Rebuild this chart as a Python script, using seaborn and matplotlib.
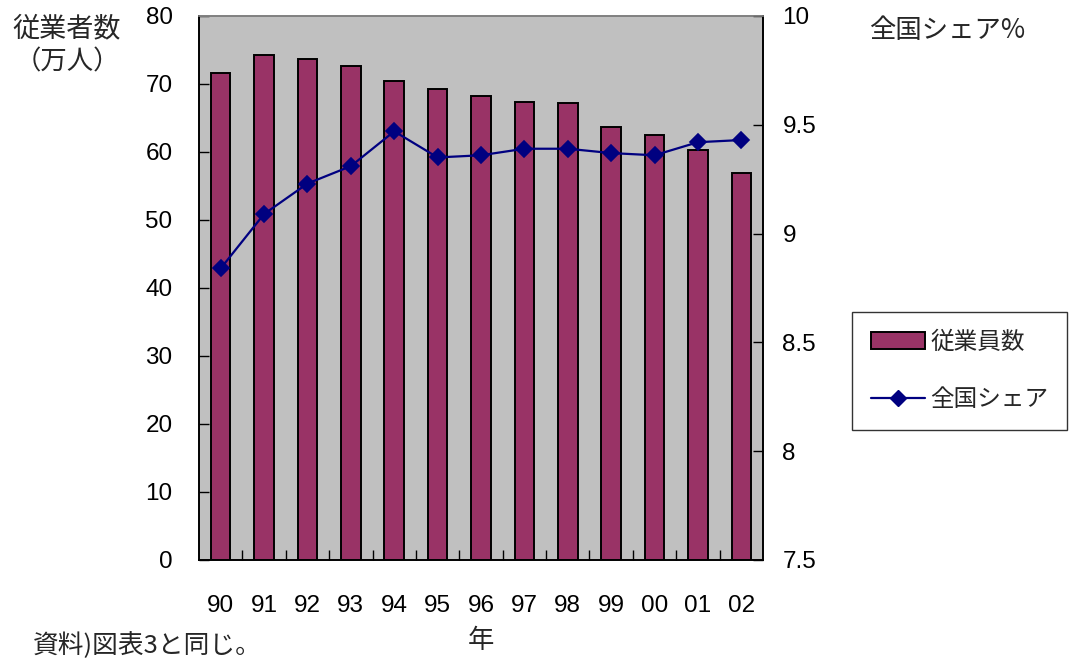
import matplotlib
matplotlib.use("Agg")
import matplotlib.pyplot as plt
from matplotlib.patches import Patch
from matplotlib.lines import Line2D
from matplotlib.ticker import FixedLocator, NullFormatter
import seaborn as sns
import pandas as pd

years = ["90", "91", "92", "93", "94", "95", "96", "97", "98", "99", "00", "01", "02"]
employees = [71.6, 74.3, 73.7, 72.6, 70.4, 69.3, 68.2, 67.4, 67.2, 63.7, 62.5, 60.3, 56.9]
national_share = [8.84, 9.09, 9.23, 9.31, 9.47, 9.35, 9.36, 9.39, 9.39, 9.37, 9.36, 9.42, 9.43]

bar_color = "#993366"
line_color = "#000080"

sns.set_theme(style="white")
plt.rcParams["font.family"] = ["Liberation Sans", "Noto Sans CJK JP", "DejaVu Sans"]
jp = ["Noto Sans CJK JP", "DejaVu Sans"]

df = pd.DataFrame({"year": years, "employees": employees, "share": national_share})

fig = plt.figure(figsize=(10.72, 6.62), dpi=100)
ax = fig.add_axes([199 / 1072, 1 - 560 / 662, (763 - 199) / 1072, (560 - 16) / 662])
ax.set_facecolor("#C0C0C0")

sns.barplot(data=df, x="year", y="employees", color=bar_color, saturation=1,
            width=0.45, edgecolor="black", linewidth=1.4, ax=ax)

ax2 = ax.twinx()
sns.pointplot(data=df, x="year", y="share", color=line_color, markers="D",
              linestyles="-", markersize=8.5, linewidth=1.6, ax=ax2)

for a in (ax, ax2):
    a.set_xlim(-0.5, len(years) - 0.5)
    a.set_xlabel("")
    a.set_ylabel("")

ax.set_ylim(0, 80)
ax.set_yticks(range(0, 81, 10))
ax2.set_ylim(7.5, 10)
ax2.set_yticks([7.5, 8, 8.5, 9, 9.5, 10])
ax2.set_yticklabels(["7.5", "8", "8.5", "9", "9.5", "10"])

ax.tick_params(axis="y", direction="in", length=7, width=1, pad=19, labelsize=17.5, colors="black", left=True)
ax2.tick_params(axis="y", direction="in", length=7, width=1, pad=14, labelsize=17.5, colors="black", right=True)
ax.tick_params(axis="x", which="major", length=0, pad=25, labelsize=17.5, colors="black")
ax.xaxis.set_minor_locator(FixedLocator([i + 0.5 for i in range(len(years) - 1)]))
ax.xaxis.set_minor_formatter(NullFormatter())
ax.tick_params(axis="x", which="minor", direction="in", length=7, width=1, bottom=True, color="black")
ax2.tick_params(axis="x", length=0)

for a in (ax, ax2):
    for side in ("left", "bottom", "right"):
        a.spines[side].set_color("black")
        a.spines[side].set_linewidth(1.2)
    a.spines["top"].set_color("#808080")
    a.spines["top"].set_linewidth(1.2)

fig.text(67 / 1072, 1 - 29 / 662, "従業者数", ha="center", va="center", fontsize=19.5, family=jp)
fig.text(67 / 1072, 1 - 62 / 662, "（万人）", ha="center", va="center", fontsize=19, family=jp)
fig.text(947 / 1072, 1 - 30 / 662, "全国シェア%", ha="center", va="center", fontsize=19, family=jp)
fig.text(481 / 1072, 1 - 641 / 662, "年", ha="center", va="center", fontsize=19, family=jp)
fig.text(33 / 1072, 1 - 646 / 662, "資料)図表3と同じ。", ha="left", va="center", fontsize=18.5, family=jp)

handles = [
    Patch(facecolor=bar_color, edgecolor="black", linewidth=1.4),
    Line2D([0], [0], color=line_color, marker="D", markersize=8, linewidth=1.6),
]
leg = fig.legend(handles, ["従業員数", "全国シェア"], loc="upper right",
                 bbox_to_anchor=(1067 / 1072, 1 - 312 / 662), frameon=True, fancybox=False,
                 edgecolor="black", prop={"family": jp, "size": 17}, handlelength=2.3,
                 handleheight=0.75, borderpad=0.8, labelspacing=1.45, handletextpad=0.2,
                 borderaxespad=0)
leg.get_frame().set_linewidth(1.0)

fig.savefig("out.png", dpi=100)
